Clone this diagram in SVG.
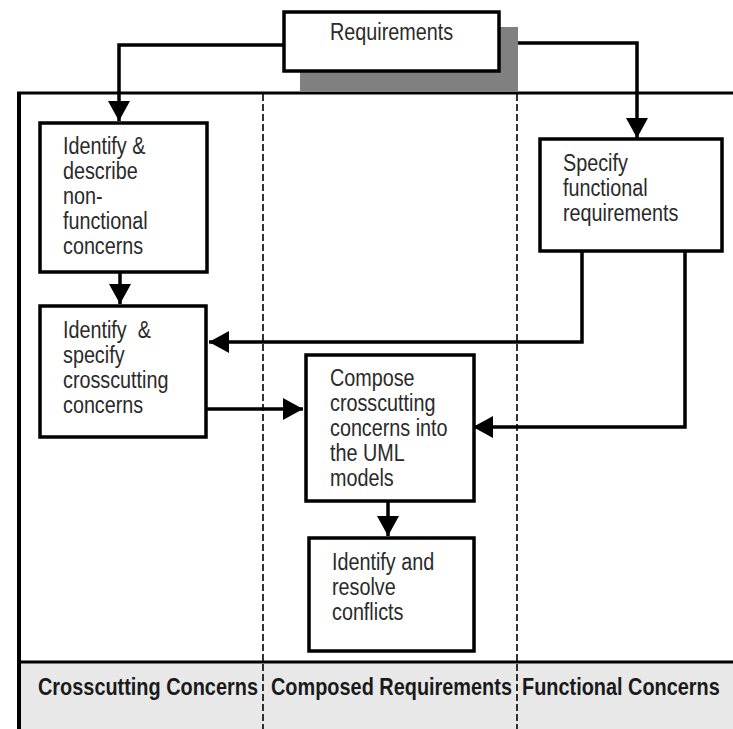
<svg xmlns="http://www.w3.org/2000/svg" width="733" height="729" viewBox="0 0 733 729">
  <defs>
    <marker id="head" markerUnits="userSpaceOnUse" markerWidth="22" markerHeight="22" refX="20" refY="11" orient="auto">
      <path d="M0,0 L20,11 L0,22 Z" fill="#000"/>
    </marker>
    <style>
      .box { fill: #fff; stroke: #000; stroke-width: 3.5; }
      .lbl { font-family: "Liberation Sans", Arial, sans-serif; font-size: 23px; fill: #2a2a2a; }
      .lane { font-family: "Liberation Sans", Arial, sans-serif; font-size: 23px; font-weight: bold; fill: #1a1a1a; }
      .frame { stroke: #000; fill: none; }
      .divider { stroke: #000; stroke-width: 1.6; stroke-dasharray: 7 3; fill: none; }
      .conn { stroke: #000; stroke-width: 3.5; fill: none; }
    </style>
  </defs>

  <rect width="733" height="729" fill="#fff"/>

  <!-- swimlane frame and footer -->
  <g id="frame">
    <rect x="19" y="663" width="714" height="66" fill="#e8e8e8"/>
    <line class="frame" x1="17" y1="93" x2="733" y2="93" stroke-width="3"/>
    <line class="frame" x1="19" y1="92" x2="19" y2="729" stroke-width="4"/>
    <line class="frame" x1="17" y1="662" x2="733" y2="662" stroke-width="3"/>
    <line class="divider" x1="263" y1="94" x2="263" y2="729"/>
    <line class="divider" x1="517" y1="94" x2="517" y2="729"/>
    <text class="lane" transform="translate(38 695) scale(0.865 1)">Crosscutting Concerns</text>
    <text class="lane" transform="translate(271 695) scale(0.865 1)">Composed Requirements</text>
    <text class="lane" transform="translate(522 695) scale(0.865 1)">Functional Concerns</text>
  </g>

  <!-- connectors -->
  <g id="connectors">
    <path class="conn" d="M283,45 H119 V121" marker-end="url(#head)"/>
    <path class="conn" d="M518,43 H637 V138" marker-end="url(#head)"/>
    <path class="conn" d="M120,273 V304" marker-end="url(#head)"/>
    <path class="conn" d="M582,252 V342 H209" marker-end="url(#head)"/>
    <path class="conn" d="M207,409 H303" marker-end="url(#head)"/>
    <path class="conn" d="M685,252 V427 H473" marker-end="url(#head)"/>
    <path class="conn" d="M388,502 V536" marker-end="url(#head)"/>
  </g>

  <g id="requirements">
    <rect x="300" y="27" width="218" height="65" fill="#808080"/>
    <rect class="box" x="284" y="12" width="215" height="59"/>
    <text class="lbl" transform="translate(330 40) scale(0.86 1)">Requirements</text>
  </g>

  <g id="describe-nonfunctional">
    <rect class="box" x="40" y="123" width="167" height="149"/>
    <text class="lbl" transform="translate(63 0) scale(0.86 1)">
      <tspan x="0" y="154">Identify &amp;</tspan>
      <tspan x="0" y="179">describe</tspan>
      <tspan x="0" y="204">non-</tspan>
      <tspan x="0" y="229">functional</tspan>
      <tspan x="0" y="254">concerns</tspan>
    </text>
  </g>

  <g id="specify-crosscutting">
    <rect class="box" x="40" y="306" width="166" height="131"/>
    <text class="lbl" transform="translate(63 0) scale(0.86 1)" xml:space="preserve">
      <tspan x="0" y="338">Identify  &amp;</tspan>
      <tspan x="0" y="363">specify</tspan>
      <tspan x="0" y="388">crosscutting</tspan>
      <tspan x="0" y="413">concerns</tspan>
    </text>
  </g>

  <g id="specify-functional">
    <rect class="box" x="540" y="139" width="182" height="112"/>
    <text class="lbl" transform="translate(563 0) scale(0.86 1)">
      <tspan x="0" y="171">Specify</tspan>
      <tspan x="0" y="196">functional</tspan>
      <tspan x="0" y="221">requirements</tspan>
    </text>
  </g>

  <g id="compose">
    <rect class="box" x="306" y="355" width="168" height="146"/>
    <text class="lbl" transform="translate(330 0) scale(0.86 1)">
      <tspan x="0" y="386">Compose</tspan>
      <tspan x="0" y="411">crosscutting</tspan>
      <tspan x="0" y="436">concerns into</tspan>
      <tspan x="0" y="461">the UML</tspan>
      <tspan x="0" y="486">models</tspan>
    </text>
  </g>

  <g id="resolve-conflicts">
    <rect class="box" x="309" y="538" width="165" height="113"/>
    <text class="lbl" transform="translate(332 0) scale(0.86 1)">
      <tspan x="0" y="570">Identify and</tspan>
      <tspan x="0" y="595">resolve</tspan>
      <tspan x="0" y="620">conflicts</tspan>
    </text>
  </g>
</svg>
